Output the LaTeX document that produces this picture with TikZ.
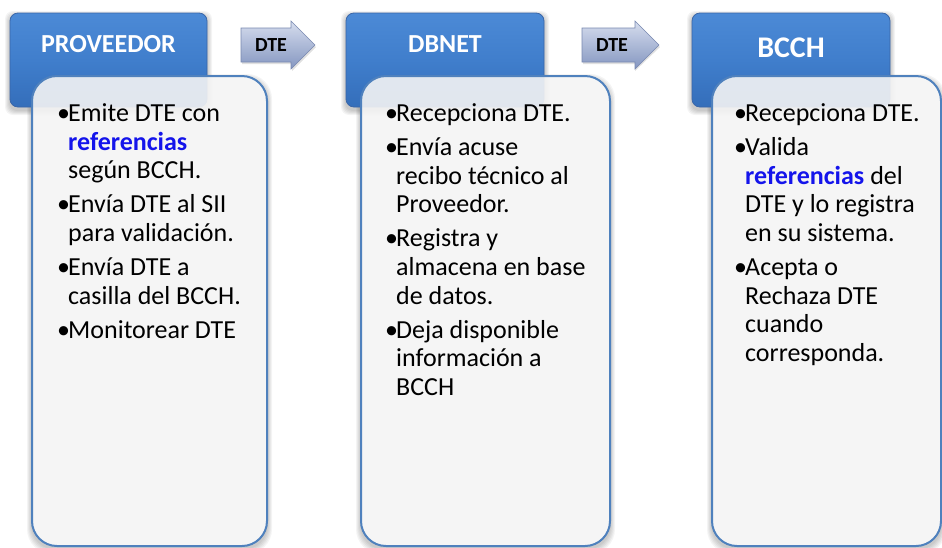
\documentclass[tikz,border=0pt]{standalone}
\usepackage{fontspec}
\setmainfont{Carlito}
\usetikzlibrary{calc}
\definecolor{hbtop}{RGB}{76,138,214}
\definecolor{hbmid}{RGB}{64,126,204}
\definecolor{hbbot}{RGB}{52,110,186}
\definecolor{hbdraw}{RGB}{58,102,168}
\definecolor{wbfill}{RGB}{244,244,244}
\definecolor{wbdraw}{RGB}{79,129,189}
\definecolor{artop}{RGB}{214,221,238}
\definecolor{arbot}{RGB}{132,150,192}
\definecolor{ardraw}{RGB}{120,136,176}
\definecolor{refblue}{RGB}{20,20,235}
\newcommand\bul{\par\hangindent=11pt\hangafter=1\noindent\makebox[11pt][l]{•}}
\newcommand\refw{\textcolor{refblue}{\textbf{referencias}}}
\newcommand\softshadow[5]{%
  \foreach \s in {1,...,5}{\fill[black, opacity=0.045, rounded corners=#5] (#1-\s,#2-\s+3) rectangle (#3+\s,#4+\s+3);}}
\newcommand\listsetup{\fontsize{26}{28.6}\selectfont\setlength\parskip{5.5pt}\rightskip=0pt plus 1fil\relax}
\tikzset{
  headbox/.style={draw=hbdraw, line width=0.8pt, top color=hbtop, bottom color=hbbot, middle color=hbmid, rounded corners=8pt},
  listbox/.style={draw=wbdraw, line width=2pt, fill=wbfill, fill opacity=0.9, rounded corners=25pt},
  listbase/.style={fill=white, rounded corners=25pt},
  arrowshape/.style={draw=ardraw, line width=0.6pt, top color=artop, bottom color=arbot},
  headtext/.style={text=white, font=\fontsize{26}{30}\selectfont\bfseries, inner sep=0pt},
  arrowtext/.style={text=black, font=\fontsize{20}{24}\selectfont\bfseries, inner sep=0pt},
  listtext/.style={anchor=base west, inner sep=0pt, text=black},
}
\begin{document}
\begin{tikzpicture}[x=1pt,y=-1pt]
\useasboundingbox (0,0) rectangle (942,547);
\fill[white] (0,0) rectangle (942,547);
% list box shadows and opaque base
\softshadow{32}{76}{267}{546}{25pt}
\softshadow{361}{76}{610}{546}{25pt}
\softshadow{712}{76}{941}{546}{25pt}
\path[listbase] (32,76) rectangle (267,546);
\path[listbase] (361,76) rectangle (610,546);
\path[listbase] (712,76) rectangle (941,546);
% header boxes
\softshadow{10}{13}{207}{107}{8pt}
\softshadow{346}{13}{544}{107}{8pt}
\softshadow{692}{13}{890}{107}{8pt}
\path[headbox] (10,13) rectangle (207,107);
\path[headbox] (346,13) rectangle (544,107);
\path[headbox] (692,13) rectangle (890,107);
% list boxes
\path[listbox] (32,76) rectangle (267,546);
\path[listbox] (361,76) rectangle (610,546);
\path[listbox] (712,76) rectangle (941,546);
% arrows
\fill[black, opacity=0.12] (242,30) -- (292,30) -- (292,23) -- (316,47) -- (292,71) -- (292,64) -- (242,64) -- cycle;
\fill[black, opacity=0.12] (583,30) -- (635,30) -- (635,23) -- (660,47) -- (635,71) -- (635,64) -- (583,64) -- cycle;
\path[arrowshape] (241,28) -- (291,28) -- (291,21) -- (315,45) -- (291,69) -- (291,62) -- (241,62) -- cycle;
\path[arrowshape] (582,28) -- (635,28) -- (635,21) -- (659,45) -- (635,69) -- (635,62) -- (582,62) -- cycle;
\node[arrowtext] (d1) at (271,45) {DTE};
\node[arrowtext] (d2) at (612,45) {DTE};
% header texts
\node[headtext] (hp) at (108.5,44) {PROVEEDOR};
\node[headtext] (hd) at (445,44) {DBNET};
\node[headtext, font=\fontsize{30}{34}\selectfont\bfseries] (hb) at (791,48) {BCCH};
% list texts
\node[listtext] (lp) at (57,121.5) {\parbox[t]{205pt}{\listsetup
\bul Emite DTE con\newline \refw\newline según BCCH.
\bul Envía DTE al SII\newline para validación.
\bul Envía DTE a\newline casilla del BCCH.
\bul Monitorear DTE}};
\node[listtext] (ld) at (385,121.5) {\parbox[t]{220pt}{\listsetup
\bul Recepciona DTE.
\bul Envía acuse\newline recibo técnico al\newline Proveedor.
\bul Registra y\newline almacena en base\newline de datos.
\bul Deja disponible\newline información a\newline BCCH}};
\node[listtext] (lb) at (734,121.5) {\parbox[t]{205pt}{\listsetup
\bul Recepciona DTE.
\bul Valida\newline \refw{} del\newline DTE y lo registra\newline en su sistema.
\bul Acepta o\newline Rechaza DTE\newline cuando\newline corresponda.}};
\end{tikzpicture}
\end{document}
